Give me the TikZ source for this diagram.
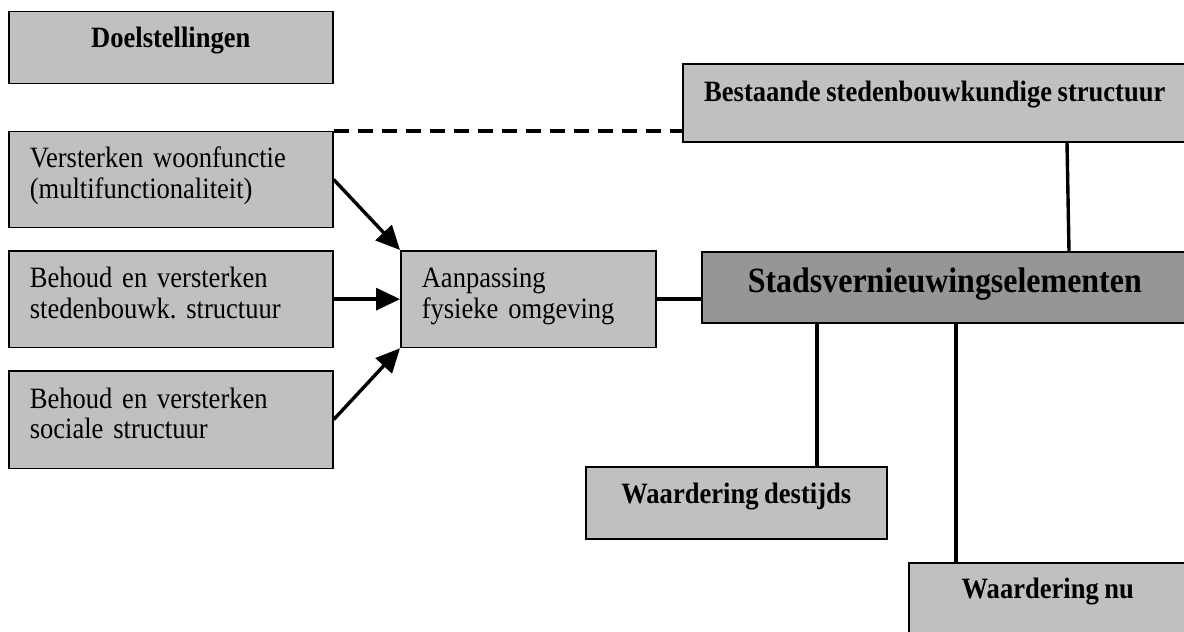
\documentclass[tikz,border=0pt]{standalone}
\usepackage{fontspec}
\setmainfont{Liberation Serif}[FakeStretch=0.9,WordSpace=0.85]
\usetikzlibrary{arrows.meta,calc}
\definecolor{lgray}{RGB}{192,192,192}
\definecolor{dgray}{RGB}{150,150,150}
\frenchspacing
\begin{document}
\begin{tikzpicture}[x=1pt,y=-1pt,
 box/.style={draw=black, line width=1.6pt, fill=lgray, anchor=north west, inner sep=0pt},
 multi/.style={box, align=left, font=\fontsize{29.5}{30.5}\selectfont, inner xsep=21pt, text height=20pt, text depth=43.2pt},
 titlebox/.style={box, align=center, font=\fontsize{29.5}{34}\selectfont\bfseries, text height=20pt},
 conn/.style={line width=3.4pt},
 arr/.style={conn, -{Triangle[length=24pt,width=22pt]}},
]
\useasboundingbox (0,0) rectangle (1184,632);
\node[titlebox, minimum width=324pt, minimum height=72pt, text depth=20pt] (doel) at (8,10.7) {Doelstellingen};
\node[multi, text width=282pt, minimum height=96pt] (vers) at (8,130.7) {Versterken woonfunctie\\(multifunctionaliteit)};
\node[multi, text width=282pt, minimum height=96.7pt] (behs) at (8,250) {Behoud en versterken\\stedenbouwk. structuur};
\node[multi, text width=282pt, minimum height=97.7pt] (behsoc) at (8,370) {Behoud en versterken\\sociale structuur};
\node[multi, text width=213pt, minimum height=96.7pt] (aanp) at (400,250) {Aanpassing\\fysieke omgeving};
\node[box, fill=dgray, font=\fontsize{35.5}{40}\selectfont\bfseries, minimum width=486pt, minimum height=71pt, text height=24pt, text depth=13.6pt] (stads) at (701,251) {Stadsvernieuwingselementen};
\node[titlebox, minimum width=504pt, minimum height=78pt, text depth=22.6pt] (best) at (682,63) {Bestaande stedenbouwkundige structuur};
\node[titlebox, minimum width=301pt, minimum height=72pt, text depth=18pt] (wdest) at (585,466) {Waardering destijds};
\node[titlebox, minimum width=278pt, minimum height=78pt, text depth=26pt] (wnu) at (908,562) {Waardering nu};

\draw[line width=4.2pt, dash pattern=on 15pt off 9pt] (vers.north east) -- (vers.north east -| best.west);
\draw[arr] (vers.east) -- (aanp.north west);
\draw[arr] (behs.east) -- (aanp.west);
\draw[arr] (behsoc.east) -- (aanp.south west);
\draw[conn] (aanp.east) -- (aanp.east -| stads.west);
\draw[conn] ($(best.south west)+(385,0)$) -- ($(stads.north west)+(368,0)$);
\coordinate (d1) at ($(stads.south west)+(116,0)$);
\coordinate (d2) at ($(stads.south west)+(255,0)$);
\draw[conn] (d1) -- (d1 |- wdest.north);
\draw[conn] (d2) -- (d2 |- wnu.north);
\end{tikzpicture}
\end{document}
